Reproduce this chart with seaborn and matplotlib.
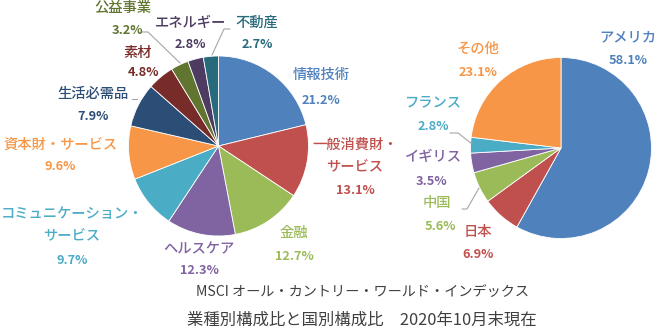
import matplotlib
matplotlib.use("Agg")
import matplotlib.pyplot as plt
import seaborn as sns
from matplotlib.lines import Line2D

# ---------------- data ----------------
sector_names = ["情報技術", "一般消費財・\nサービス", "金融", "ヘルスケア",
                "コミュニケーション・\nサービス", "資本財・サービス", "生活必需品",
                "素材", "公益事業", "エネルギー", "不動産"]
sector_values = [21.2, 13.1, 12.7, 12.3, 9.7, 9.6, 7.9, 4.8, 3.2, 2.8, 2.7]
sector_colors = ["#4F81BD", "#C0504D", "#9BBB59", "#8064A2", "#4BACC6", "#F79646",
                 "#2C4D75", "#772C2A", "#5F7530", "#4D3B62", "#276A7C"]

country_names = ["アメリカ", "日本", "中国", "イギリス", "フランス", "その他"]
country_values = [58.1, 6.9, 5.6, 3.5, 2.8, 23.1]
country_colors = ["#4F81BD", "#C0504D", "#9BBB59", "#8064A2", "#4BACC6", "#F79646"]

caption1 = "MSCI オール・カントリー・ワールド・インデックス"
caption2 = "業種別構成比と国別構成比　2020年10月末現在"

# ---------------- layout ----------------
W, H = 657, 328
sns.set_theme(style="white")
plt.rcParams["font.family"] = ["Noto Sans CJK JP", "DejaVu Sans"]

fig = plt.figure(figsize=(W / 100, H / 100), dpi=100)
fig.patch.set_facecolor("white")


def fx(x, y):
    return x / W, 1 - y / H


def pie_axes(cx, cy, r):
    ax = fig.add_axes([(cx - r) / W, 1 - (cy + r) / H, 2 * r / W, 2 * r / H])
    ax.set_axis_off()
    return ax


ax1 = pie_axes(218.5, 146, 90)
ax1.pie(sector_values, colors=sns.color_palette(sector_colors), startangle=90,
        counterclock=False, wedgeprops=dict(edgecolor="white", linewidth=0.6))
ax1.set_xlim(-1, 1); ax1.set_ylim(-1, 1); ax1.set_aspect("equal")

ax2 = pie_axes(561, 148, 90.5)
ax2.pie(country_values, colors=sns.color_palette(country_colors), startangle=90,
        counterclock=False, wedgeprops=dict(edgecolor="white", linewidth=0.6))
ax2.set_xlim(-1, 1); ax2.set_ylim(-1, 1); ax2.set_aspect("equal")

# label positions (pixel centres): (name_x, name_y, pct_x, pct_y)
sector_label_pos = [(321, 75, 321, 100), (355, 156, 355, 190), (294, 233, 294, 256),
                    (199, 249, 199, 271), (72, 225, 72, 260), (60, 145, 60, 167),
                    (93, 94, 93, 117), (138, 53, 143, 73), (123, 8, 127, 31),
                    (190, 23, 190, 45), (257, 23, 257, 45)]
country_label_pos = [(628, 37, 628, 61), (478, 232, 478, 254), (437, 203, 440, 227),
                     (433, 157, 432, 181), (433, 102, 433, 126), (478, 49, 478, 72)]

NAME_FS = 10.3
PCT_FS = 9.2


def add_labels(names, values, colors, positions):
    for name, v, c, (nx, ny, px_, py_) in zip(names, values, colors, positions):
        fig.text(*fx(nx, ny), name, color=c, fontsize=NAME_FS, ha="center",
                 va="center", linespacing=1.75, fontweight="medium")
        fig.text(*fx(px_, py_), f"{v:.1f}%", color=c, fontsize=PCT_FS,
                 fontweight="bold", ha="center", va="center")


add_labels(sector_names, sector_values, sector_colors, sector_label_pos)
add_labels(country_names, country_values, country_colors, country_label_pos)

# leader lines
leaders = [
    [(142, 32), (148, 32), (180, 63)],
    [(132, 99), (137, 99)],
    [(230, 29), (224, 29), (212, 55)],
    [(450, 133), (458, 133), (472, 144)],
    [(462, 209), (467, 209), (479, 188)],
]
for pts in leaders:
    xs = [p[0] / W for p in pts]
    ys = [1 - p[1] / H for p in pts]
    fig.add_artist(Line2D(xs, ys, color="#A6A6A6", linewidth=0.8))

fig.text(*fx(363, 292), caption1, color="#404040", fontsize=10.2, ha="center", va="center")
fig.text(*fx(362, 320), caption2, color="#404040", fontsize=11.8, ha="center", va="center")

fig.savefig("out.png", dpi=100, facecolor="white")
